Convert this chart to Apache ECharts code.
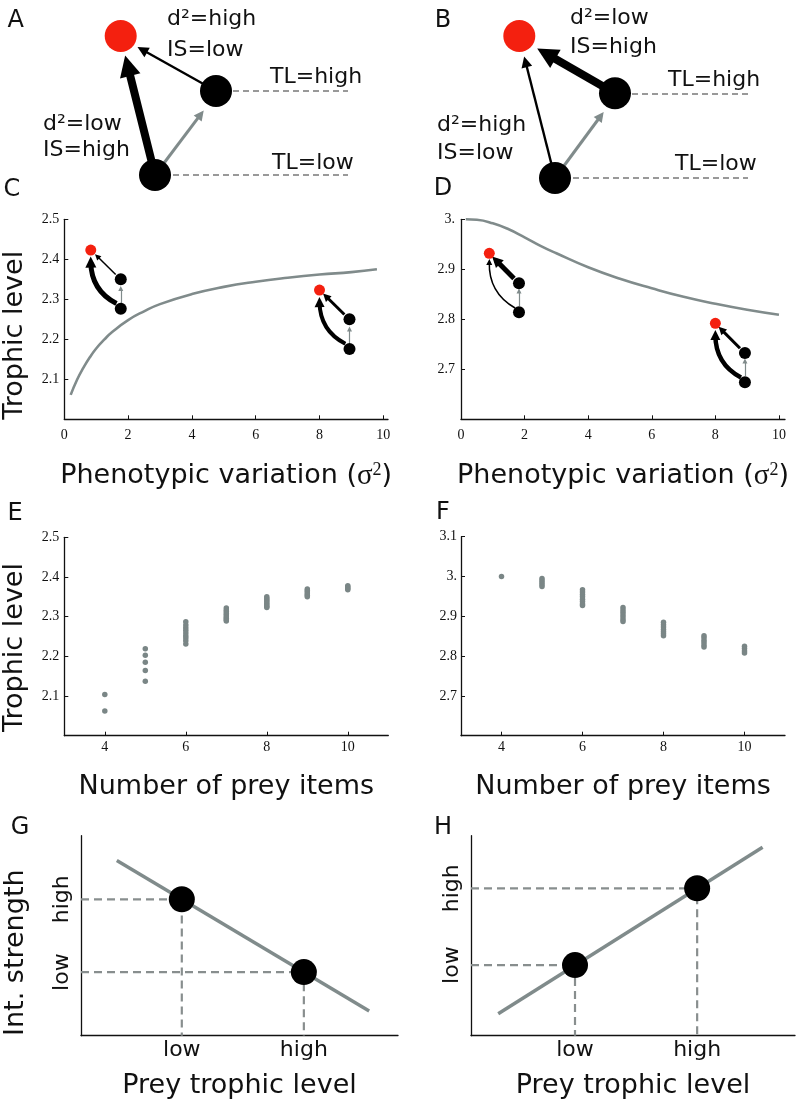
<!DOCTYPE html>
<html><head><meta charset="utf-8">
<script src="https://cdn.jsdelivr.net/npm/echarts@6/dist/echarts.min.js"></script>
<style>html,body{margin:0;padding:0;background:#fff}#c{width:800px;height:1102px}</style>
</head><body><div id="c"></div>
<script>
// ---------------- data ----------------
// C: trophic level vs phenotypic variation
const sigmaC = [0.2,0.4,0.6,0.8,1,1.25,1.5,2,2.5,3,4,5,6,7,8,9,9.8];
const tlC    = [2.061,2.099,2.129,2.155,2.177,2.199,2.218,2.248,2.270,2.288,2.313,2.331,2.344,2.354,2.362,2.368,2.375];
// D
const sigmaD = [0.15,0.5,1,1.5,2,2.5,3,4,5,6,7,8,9,10];
const tlD    = [3.0,2.999,2.992,2.980,2.964,2.947,2.932,2.904,2.881,2.862,2.845,2.831,2.819,2.809];
// E, F: trophic level vs number of prey items
const preyItems = [4,5,6,7,8,9,10];
const tlE = [
  [2.104,2.062],
  [2.219,2.203,2.185,2.164,2.137],
  [2.287,2.279,2.272,2.266,2.259,2.252,2.246,2.239,2.231],
  [2.322,2.317,2.313,2.308,2.304,2.300,2.296,2.292,2.289],
  [2.350,2.346,2.342,2.338,2.334,2.330,2.326,2.323],
  [2.370,2.366,2.362,2.358,2.354,2.350],
  [2.378,2.375,2.371,2.368]
];
const tlF = [
  [3.0],
  [2.995,2.990,2.985,2.980,2.975],
  [2.967,2.961,2.955,2.949,2.943,2.937,2.931,2.927],
  [2.922,2.916,2.910,2.904,2.898,2.892,2.887],
  [2.885,2.879,2.873,2.867,2.861,2.856,2.851],
  [2.851,2.846,2.840,2.834,2.828,2.823],
  [2.825,2.819,2.813,2.808]
];
// tick labels
const ticksSigma = [0,2,4,6,8,10];
const ticksPrey  = [4,6,8,10];
const ticksTLC   = [2.1,2.2,2.3,2.4,2.5];
const ticksTLD   = [2.7,2.8,2.9,3.0];
const ticksTLF   = [2.7,2.8,2.9,3.0,3.1];
const levelLabels = ['low','high'];
// G, H: interaction strength vs prey trophic level (schematic units 0..10)
const preyTLG = [3.18, 7.03];
const strengthG = [6.82, 3.18];
const trendG = [[1.13,8.76],[9.09,1.23]];
const preyTLH = [3.21, 6.98];
const strengthH = [3.53, 7.37];
const trendH = [[0.84,1.1],[9.0,9.42]];
// C/D insets (consumer, high-TL prey, low-TL prey) and arrow ends
const insetC1 = {consumer:[0.83,2.423], preyHigh:[1.77,2.35], preyLow:[1.77,2.2765],
  hiFrom:[1.61,2.362], hiTo:[1.03,2.4075], loFrom:[1.636,2.2895], loTo:[0.83,2.393], upFrom:[1.77,2.291], upTo:[1.77,2.327]};
const insetC2 = {consumer:[8.0,2.323], preyHigh:[8.94,2.25], preyLow:[8.94,2.176],
  hiFrom:[8.78,2.262], hiTo:[8.2,2.3075], loFrom:[8.81,2.189], loTo:[8.0,2.293], upFrom:[8.94,2.19], upTo:[8.94,2.226]};
const insetD1 = {consumer:[0.89,2.932], preyHigh:[1.824,2.872], preyLow:[1.824,2.814],
  hiFrom:[1.667,2.8818], hiTo:[1.10,2.918], loFrom:[1.70,2.8226], loTo:[0.89,2.9146], upFrom:[1.824,2.8266], upTo:[1.824,2.8566]};
const insetD2 = {consumer:[8.0,2.792], preyHigh:[8.93,2.7326], preyLow:[8.93,2.674],
  hiFrom:[8.774,2.7422], hiTo:[8.19,2.7794], loFrom:[8.805,2.6836], loTo:[8.0,2.7686], upFrom:[8.93,2.6866], upTo:[8.93,2.7166]};
// A/B schematic (consumer, high-TL prey, low-TL prey) in panel units
const schemA = {consumer:[120.7,36], preyHigh:[216,91], preyLow:[155,175],
  loTo:[127.7,65.7], hiTo:[142.3,49.8], upTo:[200.7,114.4]};
const schemB = {consumer:[119.3,36], preyHigh:[215,93.3], preyLow:[155,178],
  loTo:[125.5,61.8], hiTo:[146.3,53.7], upTo:[200.7,116]};
const tlGuideEnd = 348;

// ---------------- style ----------------
const FONT = 'DejaVu Sans', SERIF = 'Liberation Serif';
const GRAY = '#808b8b', DASH = '#999999', RED = '#f4200f', INK = '#111';

const grids = [], xAxes = [], yAxes = [], series = [];
function addGrid(g){ grids.push(Object.assign({outerBoundsMode:'none', containLabel:false}, g)); return grids.length - 1; }
function hiddenAxes(gi, w, h){
  xAxes.push({gridIndex:gi, type:'value', min:0, max:w, show:false});
  yAxes.push({gridIndex:gi, type:'value', min:0, max:h, inverse:true, show:false});
}
const axLine = {show:true, onZero:false, lineStyle:{color:INK, width:1.3}};
function tick(vals){ return {show:true, inside:true, length:4, customValues:vals, lineStyle:{color:INK, width:1}}; }
function numLabel(vals, margin, fmt){ return {show:true, customValues:vals, margin, fontFamily:SERIF, fontSize:14, color:'#111', formatter:fmt}; }
const fmtInt = v => String(Math.round(v));
const fmtTL = v => Math.abs(v - 3) < 1e-9 ? '3.' : v.toFixed(1);
const titleStyle = {fontFamily:FONT, fontSize:27, color:INK};
const sigmaName = '{a|Phenotypic variation (}{s|σ}{p|2}{a|)}';
const sigmaStyle = {fontFamily:FONT, fontSize:27, color:INK, rich:{
  a:{fontFamily:FONT, fontSize:27, color:INK, lineHeight:30},
  s:{fontFamily:SERIF, fontSize:29, color:INK, lineHeight:30},
  p:{fontFamily:SERIF, fontSize:18, color:INK, lineHeight:16, verticalAlign:'top'}}};

function arrow(gi, from, to, width, head, color, curve){
  series.push({type:'lines', coordinateSystem:'cartesian2d', xAxisIndex:gi, yAxisIndex:gi, silent:true, z:3,
    symbol:['none','triangle'], symbolSize:head,
    lineStyle:{color, width, opacity:1, curveness:curve || 0},
    data:[{coords:[from, to]}]});
}
function nodes(gi, s, size, redSize){
  series.push({type:'scatter', xAxisIndex:gi, yAxisIndex:gi, silent:true, z:5,
    data:[{value:s.consumer, symbolSize:redSize, itemStyle:{color:RED, opacity:1}},
          {value:s.preyHigh, symbolSize:size, itemStyle:{color:'#000', opacity:1}},
          {value:s.preyLow, symbolSize:size, itemStyle:{color:'#000', opacity:1}}]});
}

// ---------- A & B schematics ----------
[[schemA, 0, 'lo'], [schemB, 400, 'hi']].forEach(([s, left, strong]) => {
  const gi = addGrid({left, top:0, width:400, height:200});
  hiddenAxes(gi, 400, 200);
  series.push({type:'lines', coordinateSystem:'cartesian2d', xAxisIndex:gi, yAxisIndex:gi, silent:true, z:2, symbol:'none',
    lineStyle:{color:DASH, width:2, type:[6,4], opacity:1},
    data:[{coords:[[s.preyHigh[0]+17, s.preyHigh[1]],[tlGuideEnd, s.preyHigh[1]]]},
          {coords:[[s.preyLow[0]+18, s.preyLow[1]],[tlGuideEnd, s.preyLow[1]]]}]});
  arrow(gi, s.preyLow, s.loTo, strong === 'lo' ? 8 : 2.4, strong === 'lo' ? 21 : 11, '#000');
  arrow(gi, s.preyHigh, s.hiTo, strong === 'hi' ? 8 : 2.4, strong === 'hi' ? 21 : 11, '#000');
  arrow(gi, s.preyLow, s.upTo, 3, 10, GRAY);
  nodes(gi, s, 32, 32);
});

// ---------- C & D ----------
function sigmaPanel(left, top, width, xMax, yMin, yMax, yTicks, yFmt, xs, ys, insets, strongs, withTitle, xMargin, yMargin){
  const gi = addGrid({left, top, width, height:200});
  xAxes.push({gridIndex:gi, type:'value', min:0, max:xMax, axisLine:axLine, axisTick:tick(ticksSigma),
    axisLabel:numLabel(ticksSigma, xMargin, fmtInt), splitLine:{show:false},
    name:sigmaName, nameLocation:'middle', nameGap:42, nameTextStyle:sigmaStyle});
  yAxes.push(Object.assign({gridIndex:gi, type:'value', min:yMin, max:yMax, axisLine:axLine, axisTick:tick(yTicks),
    axisLabel:numLabel(yTicks, yMargin, yFmt), splitLine:{show:false}},
    withTitle ? {name:'Trophic level', nameLocation:'middle', nameRotate:90, nameGap:36,
      nameTextStyle:Object.assign({padding:[0,32,0,0]}, titleStyle)} : {}));
  series.push({type:'line', xAxisIndex:gi, yAxisIndex:gi, silent:true, smooth:true, showSymbol:false, z:2,
    data:xs.map((x,i)=>[x, ys[i]]), lineStyle:{color:GRAY, width:2.6}});
  insets.forEach((s, k) => {
    const st = strongs[k];
    arrow(gi, s.loFrom, s.loTo, st[0], st[1], '#000', 0.3);
    arrow(gi, s.hiFrom, s.hiTo, st[2], st[3], '#000');
    arrow(gi, s.upFrom, s.upTo, 1.2, 5, GRAY);
    nodes(gi, s, 12, 11);
  });
}
sigmaPanel(64.3, 219.3, 323.7, 10.147, 2.0, 2.5, ticksTLC, fmtTL, sigmaC, tlC, [insetC1, insetC2],
  [[5,11,1.5,6],[4,10,3,8]], true, 9, 5);
sigmaPanel(461, 219.3, 324, 10.19, 2.6, 3.0, ticksTLD, fmtTL, sigmaD, tlD, [insetD1, insetD2],
  [[1.5,6,5,11],[4.5,10,3,8]], false, 9, 6);

// ---------- E & F ----------
function preyPanel(left, top, height, yMin, yMax, yTicks, vals, withTitle, yMargin){
  const gi = addGrid({left, top, width:324, height});
  xAxes.push({gridIndex:gi, type:'value', min:3, max:11, axisLine:axLine, axisTick:tick(ticksPrey),
    axisLabel:numLabel(ticksPrey, 5, fmtInt), splitLine:{show:false},
    name:'Number of prey items', nameLocation:'middle', nameGap:38, nameTextStyle:titleStyle});
  yAxes.push(Object.assign({gridIndex:gi, type:'value', min:yMin, max:yMax, axisLine:axLine, axisTick:tick(yTicks),
    axisLabel:numLabel(yTicks, yMargin, fmtTL), splitLine:{show:false}},
    withTitle ? {name:'Trophic level', nameLocation:'middle', nameRotate:90, nameGap:36,
      nameTextStyle:Object.assign({padding:[0,22,0,0]}, titleStyle)} : {}));
  const data = [];
  preyItems.forEach((n, i) => vals[i].forEach(v => data.push([n, v])));
  series.push({type:'scatter', xAxisIndex:gi, yAxisIndex:gi, silent:true, symbolSize:5.5,
    itemStyle:{color:'#7a8686', opacity:1}, data});
}
preyPanel(64.3, 537.3, 198.4, 2.0, 2.5, ticksTLC, tlE, true, 5);
preyPanel(461, 536.7, 199, 2.6, 3.1, ticksTLF, tlF, false, 4);

// ---------- G & H ----------
function strengthPanel(left, width, prey, strength, trend, withTitle){
  const gi = addGrid({left, top:835.7, width, height:200});
  const xs = prey.slice(), ys = strength.slice().sort((a,b)=>a-b);
  xAxes.push({gridIndex:gi, type:'value', min:0, max:10, axisLine:axLine, axisTick:{show:false},
    axisLabel:{show:true, customValues:xs, margin:4, fontFamily:FONT, fontSize:22, color:INK,
      formatter:v => Math.abs(v - xs[0]) < 1e-6 ? levelLabels[0] : levelLabels[1]},
    splitLine:{show:false},
    name:'Prey trophic level', nameLocation:'middle', nameGap:37, nameTextStyle:titleStyle});
  yAxes.push(Object.assign({gridIndex:gi, type:'value', min:0, max:10, axisLine:axLine, axisTick:{show:false},
    axisLabel:{show:true, customValues:ys, rotate:90, margin:8, fontFamily:FONT, fontSize:22, color:INK,
      formatter:v => Math.abs(v - ys[0]) < 1e-6 ? levelLabels[0] : levelLabels[1]},
    splitLine:{show:false}},
    withTitle ? {name:'Int. strength', nameLocation:'middle', nameRotate:90, nameGap:52,
      nameTextStyle:Object.assign({padding:[0,34,0,0]}, titleStyle)} : {}));
  prey.forEach((p, i) => {
    series.push({type:'line', xAxisIndex:gi, yAxisIndex:gi, silent:true, showSymbol:false, z:2,
      data:[[0, strength[i]],[p, strength[i]],[p, 0]],
      lineStyle:{color:'#888e8e', width:2.2, type:[8,5]}});
  });
  series.push({type:'line', xAxisIndex:gi, yAxisIndex:gi, silent:true, showSymbol:false, z:3,
    data:trend, lineStyle:{color:GRAY, width:3.5}});
  series.push({type:'scatter', xAxisIndex:gi, yAxisIndex:gi, silent:true, z:5, symbolSize:26,
    itemStyle:{color:'#000', opacity:1}, data:prey.map((p,i)=>[p, strength[i]])});
}
strengthPanel(81, 317, preyTLG, strengthG, trendG, true);
strengthPanel(471, 324, preyTLH, strengthH, trendH, false);

// ---------- texts ----------
function txt(text, x, y, size, align){
  return {type:'text', x, y, silent:true, z:10,
    style:{text, font:size + 'px "' + FONT + '"', fill:INK, textAlign:align || 'left', align:align || 'left',
      textVerticalAlign:'middle', verticalAlign:'middle'}};
}
const graphic = [
  txt('A', 15.7, 21, 24, 'center'), txt('B', 443, 21, 24, 'center'),
  txt('C', 12, 190, 24, 'center'), txt('D', 443, 189, 24, 'center'),
  txt('E', 15, 514, 24, 'center'), txt('F', 443, 513, 24, 'center'),
  txt('G', 20, 828, 24, 'center'), txt('H', 443, 828, 24, 'center'),
  txt('d²=high', 167, 19.5, 22), txt('IS=low', 167, 50, 22),
  txt('TL=high', 270, 77.5, 22), txt('d²=low', 43, 124, 22),
  txt('IS=high', 43, 150, 22), txt('TL=low', 272, 163.5, 22),
  txt('d²=low', 570, 18, 22), txt('IS=high', 570, 47, 22),
  txt('TL=high', 668, 80, 22), txt('d²=high', 437, 125, 22),
  txt('IS=low', 437, 153, 22), txt('TL=low', 675, 164, 22)
];

const chart = echarts.init(document.getElementById('c'), null, {renderer:'canvas'});
chart.setOption({
  animation:false, backgroundColor:'#fff',
  grid:grids, xAxis:xAxes, yAxis:yAxes, series, graphic
});
</script></body></html>
